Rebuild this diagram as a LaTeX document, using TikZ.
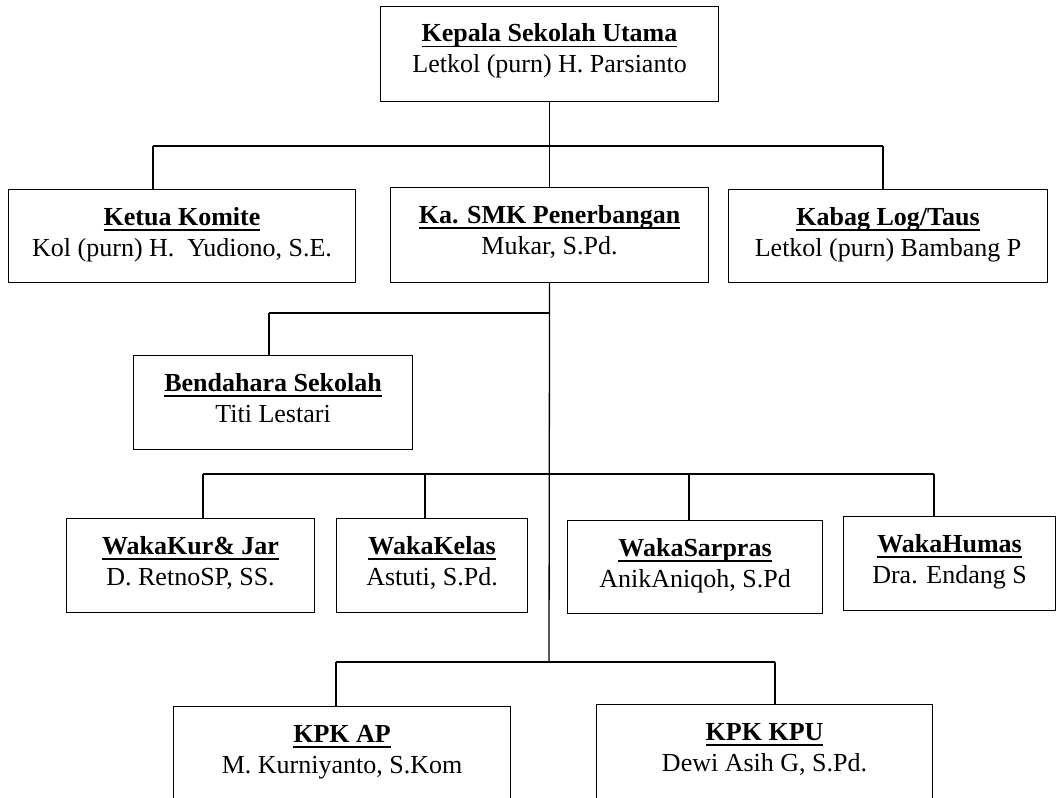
\documentclass[tikz,border=0pt]{standalone}
\usepackage{fontspec}
\setmainfont{Liberation Serif}
\usetikzlibrary{calc}
\newsavebox{\ulsave}
\newcommand\ulbf[1]{\sbox\ulsave{#1}\makebox[0pt][l]{\usebox\ulsave}\rule[-5.5pt]{\wd\ulsave}{1.7pt}}
\tikzset{
  orgbox/.style={draw=black, line width=1.1pt, fill=white, rectangle, inner sep=0pt, anchor=north west},
  ttlfont/.style={font=\fontsize{26}{30}\selectfont\bfseries, inner sep=0pt},
  nmfont/.style={font=\fontsize{26}{30}\selectfont, inner sep=0pt},
  vline/.style={draw=black, line width=1.3pt},
  hline/.style={draw=black, line width=2.2pt}
}
\newcommand\unitbox[7]{%
  \node[orgbox, minimum width=#4pt, minimum height=#5pt] (#1) at (#2,#3) {};
  \node[ttlfont, anchor=base] (#1-t) at ($(#1.north)+(0,36)$) {\ulbf{#6}};
  \node[nmfont, anchor=base] (#1-n) at ($(#1.north)+(0,67)$) {#7};
}
\begin{document}
\begin{tikzpicture}[x=1pt,y=-1pt]
\clip (0,0) rectangle (1056,797);
\fill[white] (0,0) rectangle (1056,797);
\coordinate (b1l) at (153,146);
\coordinate (b1r) at (883,146);
\coordinate (b2) at (269,313);
\coordinate (b3l) at (203,474);
\coordinate (d2) at (425,474);
\coordinate (d3) at (689,474);
\coordinate (b3r) at (934,474);
\coordinate (b4) at (549,662);
\coordinate (b4l) at (336,662);
\coordinate (b4r) at (775,662);
% boxes
\unitbox{top}{380}{6}{338}{95}{Kepala Sekolah Utama}{Letkol (purn) H. Parsianto}
\unitbox{ketua}{8}{189}{347}{93}{Ketua Komite}{Kol (purn) H.\ \ Yudiono, S.E.}
\unitbox{smk}{390}{187}{318}{95}{Ka. SMK Penerbangan}{Mukar, S.Pd.}
\unitbox{kabag}{728}{189}{319}{93}{Kabag Log/Taus}{Letkol (purn) Bambang P}
\unitbox{bend}{133}{355}{279}{94}{Bendahara Sekolah}{Titi Lestari}
\unitbox{kur}{66}{518}{248}{94}{WakaKur\& Jar}{D. RetnoSP, SS.}
\unitbox{kelas}{336}{518}{191}{94}{WakaKelas}{Astuti, S.Pd.}
\unitbox{sarpras}{567}{520}{255}{93}{WakaSarpras}{AnikAniqoh, S.Pd}
\unitbox{humas}{843}{516}{212}{94}{WakaHumas}{Dra. Endang S}
\unitbox{kpkap}{173}{706}{337}{120}{KPK AP}{M. Kurniyanto, S.Kom}
\unitbox{kpkkpu}{596}{704}{336}{120}{KPK KPU}{Dewi Asih G, S.Pd.}
% level 1
\draw[vline] (top.south) -- (smk.north);
\draw[hline] (b1l) -- (b1r);
\draw[vline] (b1l) -- (b1l |- ketua.north);
\draw[vline] (b1r) -- (b1r |- kabag.north);
% spine
\draw[vline] (smk.south) -- (b4);
% bendahara
\draw[hline] (b2) -- (b2 -| smk.south);
\draw[vline] (b2) -- (b2 |- bend.north);
% waka
\draw[hline] (b3l) -- (b3r);
\draw[vline] (b3l) -- (b3l |- kur.north);
\draw[vline] (d2) -- (d2 |- kelas.north);
\draw[vline] (d3) -- (d3 |- sarpras.north);
\draw[vline] (b3r) -- (b3r |- humas.north);
% kpk
\draw[hline] (b4l) -- (b4r);
\draw[vline] (b4l) -- (b4l |- kpkap.north);
\draw[vline] (b4r) -- (b4r |- kpkkpu.north);
\end{tikzpicture}
\end{document}
